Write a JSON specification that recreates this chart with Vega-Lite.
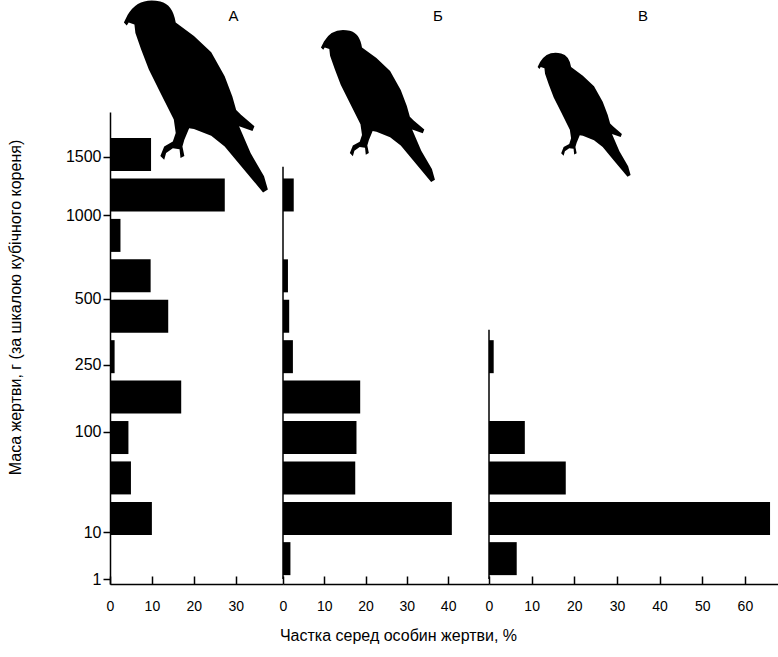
{
  "$schema": "https://vega.github.io/schema/vega-lite/v6.json",
  "background": "white",
  "padding": {"left": 7, "top": 0, "right": 0, "bottom": 5},
  "spacing": 0,
  "bounds": "flush",
  "config": {
    "view": {"stroke": null},
    "font": "Liberation Sans",
    "axis": {
      "grid": false,
      "domainColor": "black",
      "domainWidth": 1.5,
      "tickColor": "black",
      "tickWidth": 1.5,
      "labelColor": "black",
      "titleColor": "black",
      "labelFont": "Liberation Sans",
      "titleFont": "Liberation Sans",
      "titleFontWeight": "normal",
      "labelFlush": false,
      "labelOverlap": false
    },
    "title": {"fontSize": 15, "fontWeight": "normal", "color": "black", "font": "Liberation Sans"}
  },
  "datasets": {
    "bars": [
      {"panel": "А", "mass": 1520.9, "pct": 9.8},
      {"panel": "А", "mass": 1157.6, "pct": 27.4},
      {"panel": "А", "mass": 857.4, "pct": 2.5},
      {"panel": "А", "mass": 614.1, "pct": 9.7},
      {"panel": "А", "mass": 421.9, "pct": 13.9},
      {"panel": "А", "mass": 274.6, "pct": 1.1},
      {"panel": "А", "mass": 166.4, "pct": 17.0},
      {"panel": "А", "mass": 91.1, "pct": 4.4},
      {"panel": "А", "mass": 42.9, "pct": 5.0},
      {"panel": "А", "mass": 15.6, "pct": 10.0},
      {"panel": "Б", "mass": 1157.6, "pct": 2.6},
      {"panel": "Б", "mass": 614.1, "pct": 1.2},
      {"panel": "Б", "mass": 421.9, "pct": 1.5},
      {"panel": "Б", "mass": 274.6, "pct": 2.4},
      {"panel": "Б", "mass": 166.4, "pct": 18.7},
      {"panel": "Б", "mass": 91.1, "pct": 17.8},
      {"panel": "Б", "mass": 42.9, "pct": 17.5},
      {"panel": "Б", "mass": 15.6, "pct": 40.9},
      {"panel": "Б", "mass": 3.4, "pct": 1.8},
      {"panel": "В", "mass": 274.6, "pct": 1.1},
      {"panel": "В", "mass": 91.1, "pct": 8.4},
      {"panel": "В", "mass": 42.9, "pct": 18.0},
      {"panel": "В", "mass": 15.6, "pct": 65.9},
      {"panel": "В", "mass": 3.4, "pct": 6.5}
    ]
  },
  "hconcat": [
    {
      "width": 173,
      "height": 472,
      "title": {"text": "А", "anchor": "middle", "dx": 37, "offset": -24},
      "resolve": {"axis": {"x": "independent", "y": "independent"}},
      "layer": [
        {
          "data": {"name": "bars"},
          "transform": [{"filter": "datum.panel === 'А'"}],
          "mark": {"type": "bar", "orient": "horizontal", "size": 33, "color": "black"},
          "encoding": {
            "x": {"field": "pct", "type": "quantitative", "scale": {"domain": [0, 41.3], "nice": false},
              "axis": {"values": [0, 10, 20, 30], "title": null, "tickSize": -8, "labelPadding": 23, "labelFontSize": 14}},
            "y": {"field": "mass", "type": "quantitative", "scale": {"type": "pow", "exponent": 0.333333, "domain": [1, 1920], "nice": false, "zero": false},
              "axis": {"values": [1, 10, 100, 250, 500, 1000, 1500], "format": "d", "tickSize": 7, "labelFontSize": 16, "labelPadding": 2,
                "title": "Маса жертви, г (за шкалою кубічного кореня)", "titleFontSize": 16, "titlePadding": 42, "titleY": 195}}
          }
        },
        {
          "data": {"values": [{}]},
          "mark": {"type": "point", "shape": "M-0.75,-0.76L-0.71,-0.84Q-0.6,-1.03,-0.37,-0.98Q-0.24,-0.95,-0.21,-0.76L-0.02,-0.62L0.16,-0.45L0.3,-0.2L0.38,0.01L0.42,0.15L0.47,0.2L0.61,0.32L0.59,0.37L0.45,0.32L0.57,0.6L0.71,0.84L0.75,0.98L0.7,1.01L0.5,0.77L0.3,0.53L0.16,0.42L-0.02,0.35L-0.07,0.34L-0.12,0.46L-0.14,0.53L-0.12,0.63L-0.16,0.65L-0.17,0.56L-0.24,0.55L-0.31,0.6L-0.33,0.67L-0.37,0.63L-0.33,0.53L-0.24,0.48L-0.21,0.39L-0.23,0.25L-0.37,-0.03L-0.49,-0.27L-0.57,-0.48L-0.63,-0.65L-0.64,-0.74L-0.7,-0.76L-0.72,-0.73Z", "filled": true, "color": "black", "opacity": 1, "size": 36864, "strokeWidth": 0},
          "encoding": {
            "x": {"datum": 20.5, "type": "quantitative", "scale": {"domain": [0, 41.3], "nice": false}, "axis": null},
            "y": {"datum": 2177, "type": "quantitative", "scale": {"type": "pow", "exponent": 0.333333, "domain": [1, 1920], "nice": false, "zero": false}, "axis": null}
          }
        }
      ]
    },
    {
      "width": 206,
      "height": 472,
      "title": {"text": "Б", "anchor": "middle", "dx": 52, "offset": 6},
      "resolve": {"axis": {"x": "independent", "y": "independent"}},
      "layer": [
        {
          "data": {"name": "bars"},
          "transform": [{"filter": "datum.panel === 'Б'"}],
          "mark": {"type": "bar", "orient": "horizontal", "size": 33, "color": "black"},
          "encoding": {
            "x": {"field": "pct", "type": "quantitative", "scale": {"domain": [0, 49.9], "nice": false},
              "axis": {"values": [0, 10, 20, 30, 40], "title": "Частка серед особин жертви, %", "titleFontSize": 16, "titleX": 115, "titlePadding": 14, "tickSize": -8, "labelPadding": 23, "labelFontSize": 14}},
            "y": {"field": "mass", "type": "quantitative", "scale": {"type": "pow", "exponent": 0.333333, "domain": [1, 1920], "nice": false, "zero": false}, "axis": null}
          }
        },
        {
          "data": {"values": [{}]},
          "mark": {"type": "rule", "color": "black", "strokeWidth": 1.5},
          "encoding": {
            "x": {"datum": 0, "type": "quantitative", "scale": {"domain": [0, 49.9], "nice": false}, "axis": null},
            "y": {"datum": 1, "type": "quantitative", "scale": {"type": "pow", "exponent": 0.333333, "domain": [1, 1920], "nice": false, "zero": false}, "axis": null},
            "y2": {"datum": 1405}
          }
        },
        {
          "data": {"values": [{}]},
          "mark": {"type": "point", "shape": "M-0.75,-0.76L-0.71,-0.84Q-0.6,-1.03,-0.37,-0.98Q-0.24,-0.95,-0.21,-0.76L-0.02,-0.62L0.16,-0.45L0.3,-0.2L0.38,0.01L0.42,0.15L0.47,0.2L0.61,0.32L0.59,0.37L0.45,0.32L0.57,0.6L0.71,0.84L0.75,0.98L0.7,1.01L0.5,0.77L0.3,0.53L0.16,0.42L-0.02,0.35L-0.07,0.34L-0.12,0.46L-0.14,0.53L-0.12,0.63L-0.16,0.65L-0.17,0.56L-0.24,0.55L-0.31,0.6L-0.33,0.67L-0.37,0.63L-0.33,0.53L-0.24,0.48L-0.21,0.39L-0.23,0.25L-0.37,-0.03L-0.49,-0.27L-0.57,-0.48L-0.63,-0.65L-0.64,-0.74L-0.7,-0.76L-0.72,-0.73Z", "filled": true, "color": "black", "opacity": 1, "size": 23104, "strokeWidth": 0},
          "encoding": {
            "x": {"datum": 23.0, "type": "quantitative", "scale": {"domain": [0, 49.9], "nice": false}, "axis": null},
            "y": {"datum": 2058, "type": "quantitative", "scale": {"type": "pow", "exponent": 0.333333, "domain": [1, 1920], "nice": false, "zero": false}, "axis": null}
          }
        }
      ]
    },
    {
      "width": 290,
      "height": 472,
      "title": {"text": "В", "anchor": "middle", "dx": 9, "offset": 29},
      "resolve": {"axis": {"x": "independent", "y": "independent"}},
      "layer": [
        {
          "data": {"name": "bars"},
          "transform": [{"filter": "datum.panel === 'В'"}],
          "mark": {"type": "bar", "orient": "horizontal", "size": 33, "color": "black"},
          "encoding": {
            "x": {"field": "pct", "type": "quantitative", "scale": {"domain": [0, 68], "nice": false},
              "axis": {"values": [0, 10, 20, 30, 40, 50, 60], "title": null, "tickSize": -8, "labelPadding": 23, "labelFontSize": 14}},
            "y": {"field": "mass", "type": "quantitative", "scale": {"type": "pow", "exponent": 0.333333, "domain": [1, 1920], "nice": false, "zero": false}, "axis": null}
          }
        },
        {
          "data": {"values": [{}]},
          "mark": {"type": "rule", "color": "black", "strokeWidth": 1.5},
          "encoding": {
            "x": {"datum": 0, "type": "quantitative", "scale": {"domain": [0, 68], "nice": false}, "axis": null},
            "y": {"datum": 1, "type": "quantitative", "scale": {"type": "pow", "exponent": 0.333333, "domain": [1, 1920], "nice": false, "zero": false}, "axis": null},
            "y2": {"datum": 368}
          }
        },
        {
          "data": {"values": [{}]},
          "mark": {"type": "point", "shape": "M-0.75,-0.76L-0.71,-0.84Q-0.6,-1.03,-0.37,-0.98Q-0.24,-0.95,-0.21,-0.76L-0.02,-0.62L0.16,-0.45L0.3,-0.2L0.38,0.01L0.42,0.15L0.47,0.2L0.61,0.32L0.59,0.37L0.45,0.32L0.57,0.6L0.71,0.84L0.75,0.98L0.7,1.01L0.5,0.77L0.3,0.53L0.16,0.42L-0.02,0.35L-0.07,0.34L-0.12,0.46L-0.14,0.53L-0.12,0.63L-0.16,0.65L-0.17,0.56L-0.24,0.55L-0.31,0.6L-0.33,0.67L-0.37,0.63L-0.33,0.53L-0.24,0.48L-0.21,0.39L-0.23,0.25L-0.37,-0.03L-0.49,-0.27L-0.57,-0.48L-0.63,-0.65L-0.64,-0.74L-0.7,-0.76L-0.72,-0.73Z", "filled": true, "color": "black", "opacity": 1, "size": 15376, "strokeWidth": 0},
          "encoding": {
            "x": {"datum": 22.3, "type": "quantitative", "scale": {"domain": [0, 68], "nice": false}, "axis": null},
            "y": {"datum": 1953, "type": "quantitative", "scale": {"type": "pow", "exponent": 0.333333, "domain": [1, 1920], "nice": false, "zero": false}, "axis": null}
          }
        }
      ]
    }
  ]
}
